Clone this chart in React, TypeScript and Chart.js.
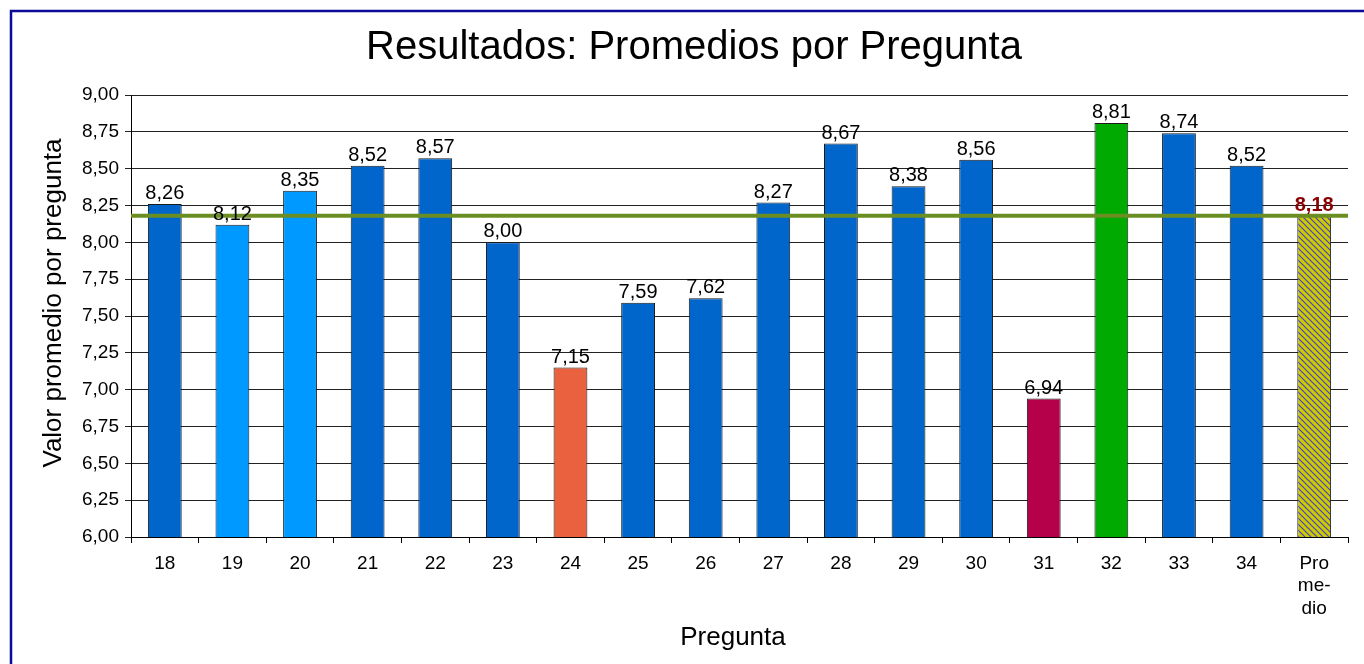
import React, { useEffect, useRef } from 'react';
import { Chart, registerables } from 'chart.js';

Chart.register(...registerables);

const categories: (string | string[])[] = [
  '18', '19', '20', '21', '22', '23', '24', '25', '26', '27', '28', '29', '30', '31', '32', '33', '34',
  ['Pro', 'me-', 'dio'],
];
const values = [8.26, 8.12, 8.35, 8.52, 8.57, 8.0, 7.15, 7.59, 7.62, 8.27, 8.67, 8.38, 8.56, 6.94, 8.81, 8.74, 8.52, 8.18];
const barColors = [
  '#0066CC', '#0099FF', '#0099FF', '#0066CC', '#0066CC', '#0066CC', '#EA613F', '#0066CC', '#0066CC',
  '#0066CC', '#0066CC', '#0066CC', '#0066CC', '#B5004A', '#00AA00', '#0066CC', '#0066CC', 'hatch',
];
const averageValue = 8.18;
const yMin = 6;
const yMax = 9;
const yStep = 0.25;
const chartTitle = 'Resultados: Promedios por Pregunta';
const yTitle = 'Valor promedio por pregunta';
const xTitle = 'Pregunta';

const FONT = "'Liberation Sans', Arial, sans-serif";
const fmt = (v: number) => v.toFixed(2).replace('.', ',');

function makeHatch(): CanvasPattern | string {
  const c = document.createElement('canvas');
  c.width = 6;
  c.height = 6;
  const g = c.getContext('2d');
  if (!g) return '#CCCC00';
  g.fillStyle = '#CCCC00';
  g.fillRect(0, 0, 6, 6);
  g.strokeStyle = '#4B3FC8';
  g.lineWidth = 1.2;
  g.beginPath();
  g.moveTo(-1, -1);
  g.lineTo(7, 7);
  g.moveTo(-4, 2);
  g.lineTo(4, 10);
  g.moveTo(2, -4);
  g.lineTo(10, 4);
  g.stroke();
  const p = g.createPattern(c, 'repeat');
  return p || '#CCCC00';
}

const decorPlugin = {
  id: 'decor',
  beforeDraw(chart: any) {
    const { ctx } = chart;
    ctx.save();
    ctx.fillStyle = '#ffffff';
    ctx.fillRect(0, 0, chart.width, chart.height);
    ctx.strokeStyle = '#0A0A96';
    ctx.lineWidth = 2.5;
    ctx.strokeRect(11, 11, chart.width + 50, chart.height + 50);
    // titles
    ctx.fillStyle = '#000';
    ctx.textAlign = 'center';
    ctx.textBaseline = 'alphabetic';
    ctx.font = `40px ${FONT}`;
    ctx.fillText(chartTitle, 694, 59);
    ctx.font = `26px ${FONT}`;
    ctx.fillText(xTitle, 733, 645);
    ctx.save();
    ctx.translate(61, 303);
    ctx.rotate(-Math.PI / 2);
    ctx.font = `26px ${FONT}`;
    ctx.fillText(yTitle, 0, 0);
    ctx.restore();
    ctx.restore();
  },
  afterDatasetsDraw(chart: any) {
    const { ctx, chartArea } = chart;
    const yScale = chart.scales.y;
    const yAvg = yScale.getPixelForValue(averageValue);
    ctx.save();
    ctx.strokeStyle = '#6B8E23';
    ctx.lineWidth = 4;
    ctx.beginPath();
    ctx.moveTo(chartArea.left, yAvg);
    ctx.lineTo(chartArea.right, yAvg);
    ctx.stroke();
    const meta = chart.getDatasetMeta(0);
    ctx.textAlign = 'center';
    ctx.textBaseline = 'alphabetic';
    meta.data.forEach((bar: any, i: number) => {
      const last = i === values.length - 1;
      ctx.font = last ? `bold 20px ${FONT}` : `20px ${FONT}`;
      ctx.fillStyle = last ? '#8B0000' : '#000';
      ctx.fillText(fmt(values[i]), bar.x, bar.y - 5);
    });
    ctx.restore();
  },
};

export default function App() {
  const ref = useRef<HTMLCanvasElement | null>(null);
  useEffect(() => {
    if (!ref.current) return;
    const hatch = makeHatch();
    const colors = barColors.map((c) => (c === 'hatch' ? hatch : c));
    const chart = new Chart(ref.current, {
      type: 'bar',
      data: {
        labels: categories as any,
        datasets: [
          {
            data: values,
            backgroundColor: colors as any,
            borderColor: '#1a1a1a',
            borderWidth: 1,
            barPercentage: 0.5,
            categoryPercentage: 1,
          },
        ],
      },
      options: {
        responsive: false,
        animation: false,
        devicePixelRatio: 1,
        layout: { padding: { top: 95, right: 16, left: 0, bottom: 0 } },
        plugins: {
          legend: { display: false },
          tooltip: { enabled: false },
          title: { display: false },
        },
        scales: {
          x: {
            type: 'category',
            offset: true,
            afterFit: (s: any) => {
              s.height = 127;
            },
            border: { display: true, color: '#000', width: 1 },
            grid: {
              offset: true,
              drawOnChartArea: false,
              drawTicks: true,
              tickLength: 6,
              color: '#000',
            },
            ticks: {
              autoSkip: false,
              maxRotation: 0,
              minRotation: 0,
              padding: 9,
              color: '#000',
              font: { family: FONT, size: 19, lineHeight: 1.2 },
            },
          },
          y: {
            min: yMin,
            max: yMax,
            afterFit: (s: any) => {
              s.width = 131;
            },
            border: { display: true, color: '#000', width: 1 },
            grid: {
              color: '#222',
              lineWidth: 1,
              drawTicks: true,
              tickLength: 6,
            },
            ticks: {
              stepSize: yStep,
              padding: 6,
              color: '#000',
              font: { family: FONT, size: 19 },
              callback: (v: any) => fmt(Number(v)),
            },
          },
        },
      },
      plugins: [decorPlugin],
    });
    return () => chart.destroy();
  }, []);
  return (
    <div style={{ position: 'fixed', left: 0, top: 0, width: 1364, height: 664, background: '#fff' }}>
      <canvas ref={ref} width={1364} height={664} style={{ display: 'block' }} />
    </div>
  );
}
